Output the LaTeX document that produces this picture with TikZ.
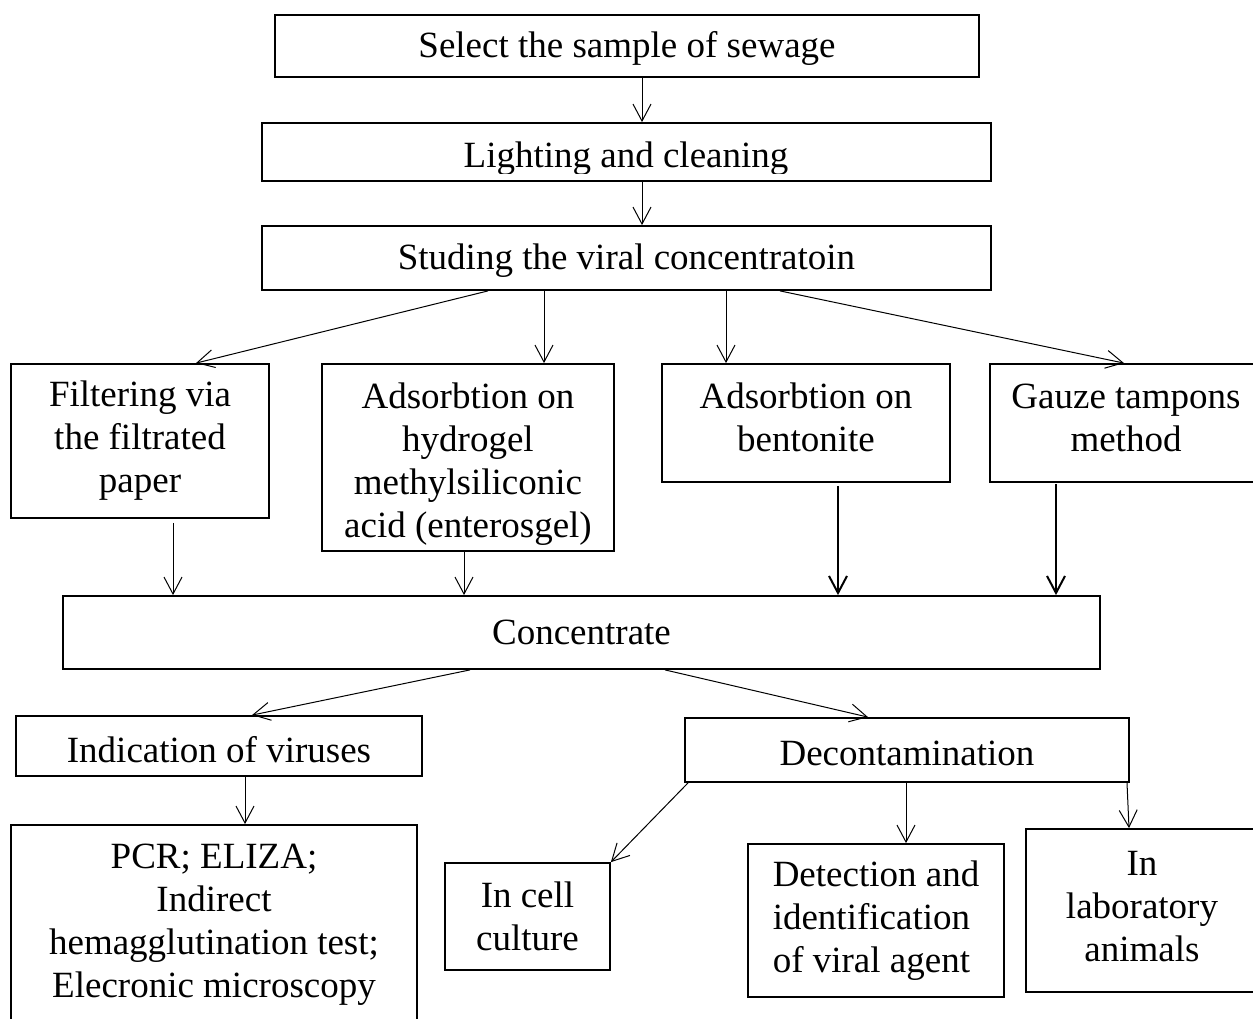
\documentclass[tikz,border=0pt]{standalone}
\usepackage{fontspec}
\setmainfont{Liberation Serif}
\usetikzlibrary{arrows.meta}
\begin{document}
\begin{tikzpicture}[x=1pt,y=-1pt,
  box/.style={draw, line width=1.8pt, inner sep=0pt, align=center,
    font=\fontsize{37}{43}\selectfont},
  txt/.style={inner sep=0pt, align=center, font=\fontsize{37}{43}\selectfont},
  arr/.style={line width=1pt, -{Straight Barb[length=17pt,width=18pt]}},
  arrthick/.style={line width=2pt, -{Straight Barb[length=17pt,width=18pt]}}]
\clip (0,0) rectangle (1253,1018);
\fill[white] (0,0) rectangle (1253,1018);

\node[box, minimum width=704pt, minimum height=62pt, text height=31pt, text depth=8pt] (sel) at (627,46) {Select the sample of sewage};
\node[box, minimum width=729pt, minimum height=58pt] (light) at (626.5,152) {};
\begin{scope}
  \clip (262,123) rectangle (991,173);
  \node[txt] (lighttext) at (626,159) {Lighting and cleaning};
\end{scope}
\node[box, minimum width=729pt, minimum height=64pt, text height=31pt, text depth=8pt] (stud) at (626.5,258) {Studing the viral concentratoin};

\node[box, minimum width=258pt, minimum height=154pt] (filt) at (140,441) {Filtering via\\the filtrated\\paper};
\node[box, minimum width=292pt, minimum height=187pt] (hyd) at (468,457.5) {};
\node[txt] (hydtext) at (468,464.5) {Adsorbtion on\\hydrogel\\methylsiliconic\\acid (enterosgel)};
\node[box, minimum width=288pt, minimum height=118pt] (bent) at (806,423) {};
\node[txt] (benttext) at (806,417) {Adsorbtion on\\bentonite};
\node[box, minimum width=272pt, minimum height=118pt] (gauze) at (1126,423) {};
\node[txt] (gauzetext) at (1126,418) {Gauze tampons\\method};

\node[box, minimum width=1037pt, minimum height=73pt] (conc) at (581.5,632.5) {Concentrate};

\node[box, minimum width=406pt, minimum height=60pt, text height=41pt, text depth=8pt] (ind) at (219,746) {Indication of viruses};
\node[box, minimum width=444pt, minimum height=64pt, text height=39pt, text depth=8pt] (deco) at (907,750) {Decontamination};

\node[box, minimum width=406pt, minimum height=200pt] (pcr) at (214,925) {PCR; ELIZA;\\Indirect\\hemagglutination test;\\Elecronic microscopy};
\node[box, minimum width=165pt, minimum height=107pt] (cell) at (527.5,916.5) {In cell\\culture};
\node[box, minimum width=256pt, minimum height=153pt, align=left] (det) at (876,920.5) {Detection and\\identification\\of viral agent};
\node[box, minimum width=232pt, minimum height=163pt] (lab) at (1142,910.5) {};
\node[txt] (labtext) at (1142,906.5) {In\\laboratory\\animals};

\draw[arr] (642,0 |- sel.south) -- (642,0 |- light.north);
\draw[arr] (642,0 |- light.south) -- (642,0 |- stud.north);

\draw[arr] (488,0 |- stud.south) -- (196,0 |- filt.north);
\draw[arr] (544,0 |- stud.south) -- (544,0 |- hyd.north);
\draw[arr] (726,0 |- stud.south) -- (726,0 |- bent.north);
\draw[arr] (780,0 |- stud.south) -- (1124,0 |- gauze.north);

\draw[arr, shorten <=4pt] (173,0 |- filt.south) -- (173,0 |- conc.north);
\draw[arr] (464,0 |- hyd.south) -- (464,0 |- conc.north);
\draw[arrthick, shorten <=3pt] (838,0 |- bent.south) -- (838,0 |- conc.north);
\draw[arrthick, shorten <=1pt] (1056,0 |- gauze.south) -- (1056,0 |- conc.north);

\draw[arr] (470,0 |- conc.south) -- (252,0 |- ind.north);
\draw[arr] (665,0 |- conc.south) -- (868,0 |- deco.north);

\draw[arr] (245,0 |- ind.south) -- (245,0 |- pcr.north);
\draw[arr] (688,0 |- deco.south) -- (cell.north east);
\draw[arr] (906,0 |- deco.south) -- (906,0 |- det.north);
\draw[arr] (1127,0 |- deco.south) -- (1129,0 |- lab.north);
\end{tikzpicture}
\end{document}
